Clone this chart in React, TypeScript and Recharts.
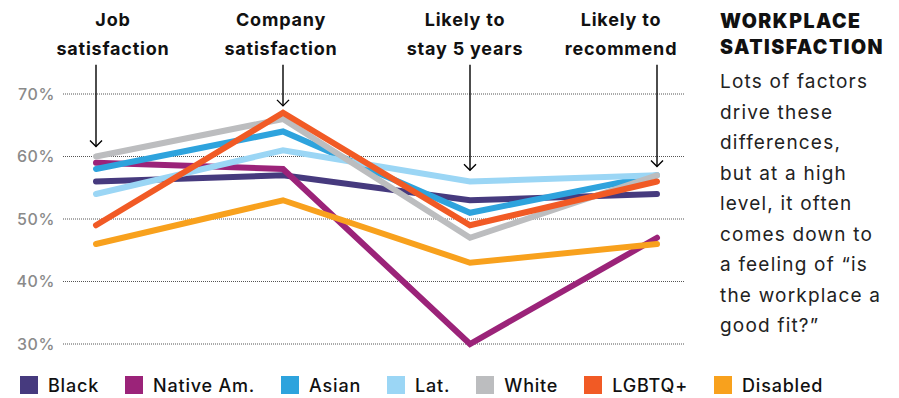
import { CartesianGrid, Line, LineChart, ReferenceLine, XAxis, YAxis } from "recharts"

const categories = [
  "Job satisfaction",
  "Company satisfaction",
  "Likely to stay 5 years",
  "Likely to recommend",
]
const labelLines = [
  ["Job", "satisfaction"],
  ["Company", "satisfaction"],
  ["Likely to", "stay 5 years"],
  ["Likely to", "recommend"],
]

const black = [56, 57, 53, 54]
const nativeAm = [59, 58, 30, 47]
const asian = [58, 64, 51, 57]
const lat = [54, 61, 56, 57]
const white = [60, 66, 47, 57]
const lgbtq = [49, 67, 49, 56]
const disabled = [46, 53, 43, 46]

// where each pointer arrow starts and stops, in percent
const arrowTop = 74.7
const arrowTip = [61.6, 68.1, 57.8, 58.4]

const yTicks = [30, 40, 50, 60, 70]

const noteLines = [
  "Lots of factors",
  "drive these",
  "differences,",
  "but at a high",
  "level, it often",
  "comes down to",
  "a feeling of \u201cis",
  "the workplace a",
  "good fit?\u201d",
]

const SERIES = [
  { key: "black", name: "Black", color: "#463a7e", values: black },
  { key: "nativeAm", name: "Native Am.", color: "#9b2379", values: nativeAm },
  { key: "asian", name: "Asian", color: "#2ea3dd", values: asian },
  { key: "lat", name: "Lat.", color: "#9bd6f5", values: lat },
  { key: "white", name: "White", color: "#bcbdbf", values: white },
  { key: "lgbtq", name: "LGBTQ+", color: "#f15a25", values: lgbtq },
  { key: "disabled", name: "Disabled", color: "#f8a11d", values: disabled },
]

const chartData = categories.map((name, i) => {
  const row: Record<string, string | number> = { name }
  SERIES.forEach((s) => {
    row[s.key] = s.values[i]
  })
  return row
})

// horizontal nudge of each header so the outer ones stay inside the plot
const labelShift = [17, -2, -5, -36]

const FONT = "Inter, 'Noto Sans', sans-serif"

const CategoryTick = (props: any) => {
  const { x, y, index } = props
  const lines = labelLines[index] ?? []
  const cx = x + labelShift[index]
  return (
    <g>
      {lines.map((line, i) => (
        <text
          key={line}
          x={cx}
          y={y - 68 + i * 29}
          textAnchor="middle"
          fontFamily={FONT}
          fontSize={18}
          fontWeight={700}
          letterSpacing={0.8}
          fill="#111"
        >
          {line}
        </text>
      ))}
    </g>
  )
}

const Arrow = (props: any) => {
  const { x1, y1, x2, y2 } = props
  const top = Math.min(y1, y2)
  const tip = Math.max(y1, y2)
  return (
    <g stroke="#000" fill="none" strokeWidth={1.4}>
      <line x1={x1} y1={top} x2={x2} y2={tip} />
      <polyline points={`${x2 - 6},${tip - 6} ${x2},${tip} ${x2 + 6},${tip - 6}`} />
    </g>
  )
}

export default function App() {
  return (
    <div style={{ position: "relative", width: 899, height: 398, background: "#fff" }}>
      <style>{"body{margin:0}"}</style>
      <LineChart
        width={899}
        height={398}
        data={chartData}
        margin={{ top: 0, right: 214, bottom: 54, left: 0 }}
      >
        <CartesianGrid
          vertical={false}
          stroke="#555"
          strokeDasharray="1 1"
        />
        <XAxis
          dataKey="name"
          orientation="top"
          height={94}
          axisLine={false}
          tickLine={false}
          tickSize={0}
          tickMargin={0}
          padding={{ left: 33, right: 28 }}
          interval={0}
          tick={<CategoryTick />}
        />
        <YAxis
          domain={[30, 70]}
          ticks={yTicks}
          width={63}
          axisLine={false}
          tickLine={false}
          tickSize={0}
          tickMargin={8}
          tickFormatter={(v: number) => `${v}%`}
          tick={{
            fill: "#8a8a8a",
            fontSize: 16,
            fontWeight: 500,
            fontFamily: FONT,
            letterSpacing: 0.6,
          }}
        />
        {SERIES.map((s) => (
          <Line
            key={s.key}
            dataKey={s.key}
            name={s.name}
            stroke={s.color}
            strokeWidth={6}
            strokeLinecap="round"
            dot={false}
            activeDot={false}
            isAnimationActive={false}
          />
        ))}
        {categories.map((c, i) => (
          <ReferenceLine
            key={c}
            segment={[
              { x: c, y: arrowTop },
              { x: c, y: arrowTip[i] },
            ]}
            ifOverflow="visible"
            shape={<Arrow />}
          />
        ))}
      </LineChart>

      <div
        style={{
          position: "absolute",
          left: 720,
          top: 8,
          fontFamily: FONT,
          fontWeight: 900,
          fontSize: 19.5,
          lineHeight: "26px",
          color: "#111",
          letterSpacing: 1.5,
        }}
      >
        WORKPLACE
        <br />
        SATISFACTION
      </div>
      <div
        style={{
          position: "absolute",
          left: 720,
          top: 67,
          fontFamily: FONT,
          fontSize: 19,
          lineHeight: "30.5px",
          letterSpacing: 1.2,
          color: "#222",
        }}
      >
        {noteLines.map((l) => (
          <div key={l}>{l}</div>
        ))}
      </div>

      <div
        style={{
          position: "absolute",
          left: 20,
          top: 376,
          display: "flex",
          alignItems: "center",
          fontFamily: FONT,
          fontSize: 18,
          fontWeight: 500,
          letterSpacing: 0.8,
          color: "#111",
        }}
      >
        {SERIES.map((s) => (
          <div key={s.key} style={{ display: "flex", alignItems: "center", marginRight: 26 }}>
            <span
              style={{ width: 18, height: 18, background: s.color, marginRight: 10, display: "inline-block" }}
            />
            <span style={{ lineHeight: "18px", position: "relative", top: 1 }}>{s.name}</span>
          </div>
        ))}
      </div>
    </div>
  )
}
